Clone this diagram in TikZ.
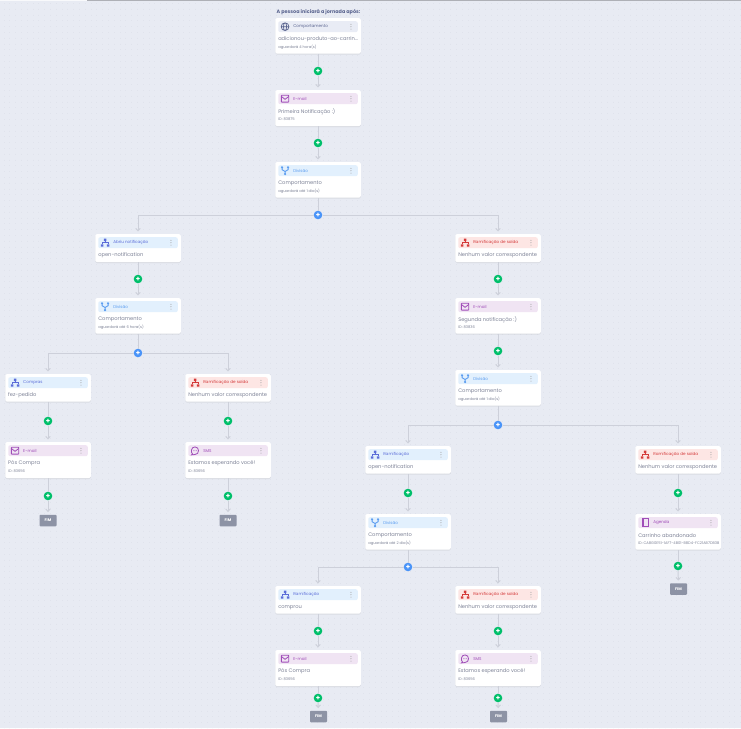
\documentclass[tikz,border=0pt]{standalone}
\usepackage{fontspec}
\setmainfont{Poppins}
\usetikzlibrary{arrows.meta,positioning,shadows}

\definecolor{canvas}{HTML}{E8EBF3}
\definecolor{canvasdot}{HTML}{E0E3EC}
\definecolor{wirecol}{HTML}{CDD0DA}
\definecolor{inkcol}{HTML}{7E8397}
\definecolor{addgrn}{HTML}{00BF6A}
\definecolor{addblu}{HTML}{4A94F8}
\definecolor{fimcol}{HTML}{8D93A5}
\definecolor{behavhead}{HTML}{E9ECF5}
\definecolor{behavfg}{HTML}{5A648F}
\definecolor{mailhead}{HTML}{F0E4F3}
\definecolor{mailfg}{HTML}{A04DB8}
\definecolor{splithead}{HTML}{E2F0FD}
\definecolor{splitfg}{HTML}{5A9CF0}
\definecolor{forkhead}{HTML}{E2F0FD}
\definecolor{forkfg}{HTML}{5B6CD8}
\definecolor{exithead}{HTML}{FDE6E4}
\definecolor{exitfg}{HTML}{D43A3A}

\tikzset{
  cardbox/.style={fill=white, rounded corners=1.5pt, minimum width=85.5pt, inner sep=0pt, anchor=north,
    drop shadow={opacity=.14, shadow xshift=0pt, shadow yshift=-.8pt}},
  headbox/.style={rounded corners=2pt, minimum width=79.5pt, minimum height=11pt, inner sep=0pt},
  headtitle/.style={anchor=west, inner sep=0pt, font=\fontsize{4.1}{5}\selectfont},
  cardtext/.style={anchor=west, inner sep=0pt, text=inkcol, font=\fontsize{5.15}{6}\selectfont},
  subtext/.style={anchor=west, inner sep=0pt, text=inkcol, font=\fontsize{3.7}{4}\selectfont},
  addbtn/.style={circle, fill=#1, text=white, minimum size=8.6pt, inner sep=0pt, font=\bfseries\fontsize{7}{7}\selectfont},
  fimbox/.style={fill=fimcol, text=white, rounded corners=.8pt, minimum width=17pt, minimum height=11.5pt,
    inner sep=0pt, font=\bfseries\fontsize{3.8}{4}\selectfont},
  wire/.style={draw=wirecol, line width=1pt},
  wireto/.style={wire, -{Straight Barb[length=2.4pt,width=4.6pt]}, shorten >=2.5pt},
  dotline/.style={draw=canvasdot, line width=.9pt, dash pattern=on .9pt off 4.9pt},
  % small glyphs for the card headers
  pics/menudots/.style={code={
    \fill[black!35] (0,-2.4) circle (.55) (0,0) circle (.55) (0,2.4) circle (.55);}},
  pics/iconfork/.style={code={
    \fill (-1.2,-4) rectangle (1.2,-1.6) (-4.2,1.6) rectangle (-1.8,4) (1.8,1.6) rectangle (4.2,4);
    \draw[line width=.6pt] (0,-1.6) -- (0,0) (-3,1.6) -- (-3,0) -- (3,0) -- (3,1.6);}},
  pics/iconsplit/.style={code={
    \fill (-3,-3.4) circle (1.2) (3,-3.4) circle (1.2) (0,3.4) circle (1.2);
    \draw[line width=.9pt] (-3,-3.4) -- (-3,-1) -- (0,.8) -- (0,3.4) (3,-3.4) -- (3,-1) -- (0,.8);}},
  pics/iconmail/.style={code={
    \draw[line width=.8pt, rounded corners=.5pt] (-3.7,-3.4) rectangle (3.7,3.4);
    \draw[line width=.8pt] (-3.7,-2.2) -- (0,.6) -- (3.7,-2.2);}},
  pics/iconsms/.style={code={
    \draw[line width=.8pt] (-2.6,3.2) .. controls (-4.4,1.8) and (-4.2,-3.8) .. (0,-3.8)
      .. controls (4.6,-3.8) and (4.6,3.8) .. (0,3.8) -- (-3.6,4.2) -- cycle;
    \fill (-1.4,0) circle (.4) (0,0) circle (.4) (1.4,0) circle (.4);}},
  pics/iconglobe/.style={code={
    \draw[line width=.7pt] (0,0) circle (3.9) (0,0) ellipse (1.6 and 3.9) (-3.9,0) -- (3.9,0);}},
  pics/iconagenda/.style={code={
    \draw[line width=.8pt] (-2.8,-4) rectangle (3.2,4);
    \fill (-3.4,-4) rectangle (-1.2,4);}},
}

% name, centre x, top y, height, colours, icon, title, text, small text
\newcommand{\flowcard}[9]{%
  \node[cardbox, minimum height=#4pt] (#1) at (#2,#3) {};
  \node[headbox, fill=#5head, below=3pt of #1.north] (#1-head) {};
  \pic[color=#5fg] at ([xshift=7pt]#1-head.west) {#6};
  \node[headtitle, text=#5fg] (#1-title) at ([xshift=15pt]#1-head.west) {#7};
  \pic at ([xshift=-7pt]#1-head.east) {menudots};
  \node[cardtext] (#1-text) at ([xshift=3pt,yshift=-21.5pt]#1.north west) {#8};
  \if\relax\detokenize{#9}\relax\else
    \node[subtext] (#1-sub) at ([xshift=3pt,yshift=-29pt]#1.north west) {#9};
  \fi
}

\begin{document}
\begin{tikzpicture}[x=1pt,y=-1pt]
  \useasboundingbox (0,0) rectangle (741,728);
  \fill[canvas] (0,0) rectangle (741,728);
  \foreach \dx in {4,9.8,...,741} \draw[dotline] (\dx,3) -- (\dx,728);

  % Top edge
  \fill[white!70!canvas] (0,0) rectangle (87,1.2);
  \fill[black!25!canvas] (87,0) rectangle (741,1.2);

  % Start of the journey
  \node[inner sep=0pt, text=behavfg, font=\bfseries\fontsize{4.9}{6}\selectfont] (starthead) at (318.5,12) {A pessoa iniciará a jornada após:};
  \flowcard{behav}{318}{18}{35.5}{behav}{iconglobe}{Comportamento}{adicionou-produto-ao-carrin...}{aguardará 4 hora(s)}
  \flowcard{mailone}{318}{90}{36}{mail}{iconmail}{E-mail}{Primeira Notificação :)}{ID: 83875}
  \flowcard{splitone}{318}{162}{35.5}{split}{iconsplit}{Divisão}{Comportamento}{aguardará até 1 dia(s)}

  % Left branch
  \flowcard{opened}{138}{234}{28}{fork}{iconfork}{Abriu notificação}{open-notification}{}
  \flowcard{splitleft}{138}{298}{35.5}{split}{iconsplit}{Divisão}{Comportamento}{aguardará até 6 hora(s)}
  \flowcard{bought}{48}{374}{27.5}{fork}{iconfork}{Compras}{fez-pedido}{}
  \flowcard{mailbought}{48}{442}{36}{mail}{iconmail}{E-mail}{Pós Compra}{ID: 83656}
  \flowcard{exitleft}{228}{374}{27.5}{exit}{iconfork}{Ramificação de saída}{Nenhum valor correspondente}{}
  \flowcard{smsleft}{228}{442}{36}{mail}{iconsms}{SMS}{Estamos esperando você!}{ID: 83656}

  % Right branch
  \flowcard{exitone}{498}{234}{28}{exit}{iconfork}{Ramificação de saída}{Nenhum valor correspondente}{}
  \flowcard{mailtwo}{498}{298}{35.5}{mail}{iconmail}{E-mail}{Segunda notificação :)}{ID: 83836}
  \flowcard{splittwo}{498}{370}{35.5}{split}{iconsplit}{Divisão}{Comportamento}{aguardará até 1 dia(s)}
  \flowcard{openedtwo}{408}{446}{27.5}{fork}{iconfork}{Ramificação}{open-notification}{}
  \flowcard{splitthree}{408}{514}{35.5}{split}{iconsplit}{Divisão}{Comportamento}{aguardará até 2 dia(s)}
  \flowcard{exittwo}{678}{446}{27.5}{exit}{iconfork}{Ramificação de saída}{Nenhum valor correspondente}{}
  \flowcard{agenda}{678}{514}{35.5}{mail}{iconagenda}{Agenda}{Carrinho abandonado}{ID: CA8G0E51-1AF7-4B01-B8D4-FC21AB7DB3B}

  % Bottom branch
  \flowcard{boughttwo}{318}{586}{27.5}{fork}{iconfork}{Ramificação}{comprou}{}
  \flowcard{mailend}{318}{650}{36}{mail}{iconmail}{E-mail}{Pós Compra}{ID: 83656}
  \flowcard{exitend}{498}{586}{27.5}{exit}{iconfork}{Ramificação de saída}{Nenhum valor correspondente}{}
  \flowcard{smsend}{498}{650}{36}{mail}{iconsms}{SMS}{Estamos esperando você!}{ID: 83656}

  % End markers
  \node[fimbox] (fima) at (48,520.5) {FIM};
  \node[fimbox] (fimb) at (228,520.5) {FIM};
  \node[fimbox] (fimc) at (678.5,589) {FIM};
  \node[fimbox] (fimd) at (318.5,716.5) {FIM};
  \node[fimbox] (fime) at (498.5,716.5) {FIM};

  % Add buttons
  \node[addbtn=addgrn] (adda) at (318,71) {+};
  \node[addbtn=addgrn] (addb) at (318,143) {+};
  \node[addbtn=addblu] (addc) at (318,215) {+};
  \node[addbtn=addgrn] (addd) at (138,279) {+};
  \node[addbtn=addblu] (adde) at (138,353) {+};
  \node[addbtn=addgrn] (addf) at (48,421) {+};
  \node[addbtn=addgrn] (addg) at (48,496) {+};
  \node[addbtn=addgrn] (addh) at (228,421) {+};
  \node[addbtn=addgrn] (addi) at (228,496) {+};
  \node[addbtn=addgrn] (addj) at (498,279) {+};
  \node[addbtn=addgrn] (addk) at (498,351) {+};
  \node[addbtn=addblu] (addl) at (498,425) {+};
  \node[addbtn=addgrn] (addm) at (408,493) {+};
  \node[addbtn=addblu] (addn) at (408,567) {+};
  \node[addbtn=addgrn] (addo) at (678,493) {+};
  \node[addbtn=addgrn] (addp) at (678,566) {+};
  \node[addbtn=addgrn] (addq) at (318,631) {+};
  \node[addbtn=addgrn] (addr) at (318,698) {+};
  \node[addbtn=addgrn] (adds) at (498,631) {+};
  \node[addbtn=addgrn] (addt) at (498,698) {+};

  % Straight connectors
  \draw[wire] (behav) -- (adda);
  \draw[wireto] (adda) -- (mailone);
  \draw[wire] (mailone) -- (addb);
  \draw[wireto] (addb) -- (splitone);
  \draw[wire] (splitone) -- (addc);
  \draw[wire] (opened) -- (addd);
  \draw[wireto] (addd) -- (splitleft);
  \draw[wire] (splitleft) -- (adde);
  \draw[wire] (bought) -- (addf);
  \draw[wireto] (addf) -- (mailbought);
  \draw[wire] (mailbought) -- (addg);
  \draw[wireto] (addg) -- (fima);
  \draw[wire] (exitleft) -- (addh);
  \draw[wireto] (addh) -- (smsleft);
  \draw[wire] (smsleft) -- (addi);
  \draw[wireto] (addi) -- (fimb);
  \draw[wire] (exitone) -- (addj);
  \draw[wireto] (addj) -- (mailtwo);
  \draw[wire] (mailtwo) -- (addk);
  \draw[wireto] (addk) -- (splittwo);
  \draw[wire] (splittwo) -- (addl);
  \draw[wire] (openedtwo) -- (addm);
  \draw[wireto] (addm) -- (splitthree);
  \draw[wire] (splitthree) -- (addn);
  \draw[wire] (exittwo) -- (addo);
  \draw[wireto] (addo) -- (agenda);
  \draw[wire] (agenda) -- (addp);
  \draw[wireto] (addp) -- (fimc);
  \draw[wire] (boughttwo) -- (addq);
  \draw[wireto] (addq) -- (mailend);
  \draw[wire] (mailend) -- (addr);
  \draw[wireto] (addr) -- (fimd);
  \draw[wire] (exitend) -- (adds);
  \draw[wireto] (adds) -- (smsend);
  \draw[wire] (smsend) -- (addt);
  \draw[wireto] (addt) -- (fime);

  % Branch connectors
  \draw[wireto] (addc) -| (opened);
  \draw[wireto] (addc) -| (exitone);
  \draw[wireto] (adde) -| (bought);
  \draw[wireto] (adde) -| (exitleft);
  \draw[wireto] (addl) -| (openedtwo);
  \draw[wireto] (addl) -| (exittwo);
  \draw[wireto] (addn) -| (boughttwo);
  \draw[wireto] (addn) -| (exitend);
\end{tikzpicture}
\end{document}
